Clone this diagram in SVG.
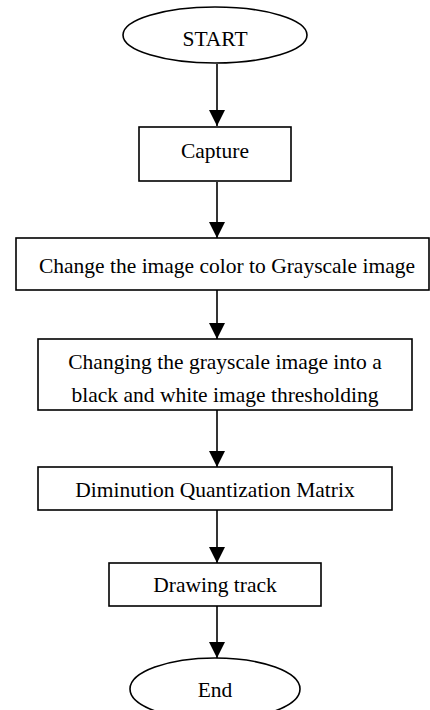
<svg xmlns="http://www.w3.org/2000/svg" width="430" height="710" viewBox="0 0 430 710">
<style>
.s{fill:#fff;stroke:#000;stroke-width:1.6}
.t{font-family:"Liberation Serif","Times New Roman",serif;font-size:21.5px;fill:#000;text-anchor:middle}
.c{stroke:#000;stroke-width:1.6;fill:none;marker-end:url(#ah)}
</style>
<defs>
<marker id="ah" markerUnits="userSpaceOnUse" markerWidth="16" markerHeight="16" viewBox="0 0 16 16" refX="16" refY="8" orient="auto">
<path d="M0,0 L16,8 L0,16 Z" fill="#000"/>
</marker>
</defs>
<rect width="430" height="710" fill="#fff"/>
<g id="connectors">
<line class="c" x1="217" y1="64" x2="217" y2="126"/>
<line class="c" x1="217" y1="182" x2="217" y2="238"/>
<line class="c" x1="217" y1="290" x2="217" y2="339"/>
<line class="c" x1="217" y1="410" x2="217" y2="467"/>
<line class="c" x1="217" y1="510" x2="217" y2="563"/>
<line class="c" x1="217" y1="606" x2="217" y2="658"/>
</g>
<g id="start">
<ellipse class="s" cx="215" cy="35" rx="92" ry="28"/>
<text class="t" x="215" y="46">START</text>
</g>
<g id="capture">
<rect class="s" x="139" y="127" width="152" height="54"/>
<text class="t" x="215" y="158">Capture</text>
</g>
<g id="grayscale">
<rect class="s" x="16" y="238" width="413" height="52"/>
<text class="t" x="227" y="273">Change the image color to Grayscale image</text>
</g>
<g id="threshold">
<rect class="s" x="38" y="339" width="374" height="71"/>
<text class="t" x="225" y="369">Changing the grayscale image into a</text>
<text class="t" x="225" y="402">black and white image thresholding</text>
</g>
<g id="quantization">
<rect class="s" x="38" y="467" width="354" height="43"/>
<text class="t" x="215" y="497">Diminution Quantization Matrix</text>
</g>
<g id="drawing">
<rect class="s" x="109" y="563" width="212" height="43"/>
<text class="t" x="215" y="592">Drawing track</text>
</g>
<g id="end">
<ellipse class="s" cx="215" cy="689" rx="85" ry="31"/>
<text class="t" x="215" y="697">End</text>
</g>
</svg>
